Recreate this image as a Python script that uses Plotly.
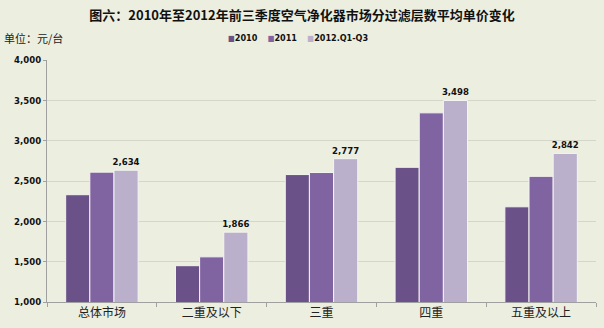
import plotly.graph_objects as go

categories = ["总体市场", "二重及以下", "三重", "四重", "五重及以上"]
series_names = ["2010", "2011", "2012.Q1-Q3"]
v2010 = [2330, 1450, 2580, 2670, 2180]
v2011 = [2610, 1560, 2605, 3345, 2558]
v2012 = [2634, 1866, 2777, 3498, 2842]
colors = ["#6A5288", "#8064A2", "#BAB0CC"]

cjk = "Noto Sans CJK SC"
fig = go.Figure()
for name, vals, col in zip(series_names, [v2010, v2011, v2012], colors):
    show = name == "2012.Q1-Q3"
    fig.add_trace(go.Bar(
        x=categories, y=vals, name=name,
        marker=dict(color=col, line=dict(color="#F4F4F0", width=1)),
        text=[f"{v:,}" for v in vals] if show else None,
        textposition="outside" if show else "none",
        constraintext="none",
        textfont=dict(family="DejaVu Sans Condensed", size=9.5, color="#111111", weight="bold"),
        cliponaxis=False,
    ))

legend_text = "&nbsp;&nbsp;&nbsp;&nbsp;".join(
    f"<span style='color:{c};font-size:8px'>■</span><b>{n}</b>" for n, c in zip(series_names, colors))

fig.update_layout(
    width=604, height=328,
    margin=dict(l=47, r=8, t=60, b=26),
    paper_bgcolor="#ECEEE0", plot_bgcolor="#ECEEE0",
    barmode="group", bargap=0.34, bargroupgap=0.0,
    font=dict(family=cjk, size=12, color="#222222"),
    title=dict(text="<b>图六：2010年至2012年前三季度空气净化器市场分过滤层数平均单价变化</b>",
               x=0.5, xanchor="center", y=1 - 15 / 328, yanchor="middle",
               font=dict(family=cjk, size=13, color="#111111")),
    showlegend=False,
    annotations=[
        dict(text="单位：元/台", xref="paper", yref="paper", x=-45 / 549, y=1.091,
             xanchor="left", yanchor="middle", showarrow=False,
             font=dict(family=cjk, size=11, color="#222222")),
        dict(text=legend_text, xref="paper", yref="paper", x=(226 - 47) / 549, y=1.091,
             xanchor="left", yanchor="middle", showarrow=False,
             font=dict(family="DejaVu Sans Condensed", size=9, color="#111111")),
    ],
)
fig.update_yaxes(range=[1000, 4000], dtick=500, tickformat=",",
                 showgrid=True, gridcolor="#D3D6C8", gridwidth=1,
                 showline=True, linecolor="#A0A0A0", ticks="outside", ticklen=3, tickcolor="#A0A0A0",
                 tickfont=dict(family="DejaVu Sans Condensed", size=9.5, color="#111111", weight="bold"),
                 zeroline=False)
fig.update_xaxes(showline=True, linecolor="#A0A0A0", ticks="outside", tickson="boundaries",
                 ticklen=4, tickcolor="#A0A0A0",
                 tickfont=dict(family=cjk, size=12, color="#222222"))

fig.write_html("out.html")
